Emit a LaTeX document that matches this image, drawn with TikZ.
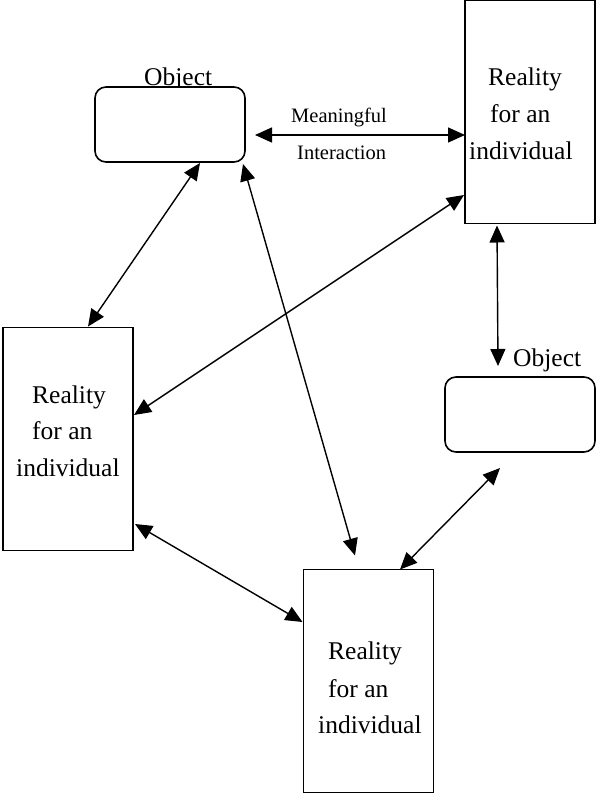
\documentclass[tikz,border=0pt]{standalone}
\usepackage{fontspec}
\setmainfont{Liberation Serif}
\usetikzlibrary{arrows.meta,calc}
\begin{document}
\begin{tikzpicture}[x=1pt,y=-1pt,
  realbox/.style={draw,line width=1.6pt,fill=white,inner sep=0,outer sep=0,minimum width=130pt,minimum height=223pt},
  objbox/.style={draw,line width=1.6pt,fill=white,rounded corners=11pt,inner sep=0,outer sep=0,minimum width=150pt,minimum height=75pt},
  txt/.style={anchor=base west,inner sep=0,font=\fontsize{25.5}{30}\selectfont},
  smalltxt/.style={anchor=base west,inner sep=0,font=\fontsize{20.5}{24}\selectfont},
  link/.style={{Triangle[length=17pt,width=15pt]}-{Triangle[length=17pt,width=15pt]},line width=1.4pt}
]
\useasboundingbox (0,0) rectangle (596,794);

% Object (top left)
\node[txt] (objlab1) at (144,86) {Object};
\node[objbox] (obj1) at (170,124.5) {};

% Reality boxes
\node[realbox] (rt) at (530,112) {};
\node[txt] (rt1) at (488,86) {Reality};
\node[txt] (rt2) at (490,123) {for an};
\node[txt] (rt3) at (469,160) {individual};

\node[realbox] (lb) at (68,439) {};
\node[txt] (lb1) at (32,403) {Reality};
\node[txt] (lb2) at (32,439) {for an};
\node[txt] (lb3) at (16,476) {individual};

\node[realbox] (bt) at (368.5,681) {};
\node[txt] (bt1) at (328,659) {Reality};
\node[txt] (bt2) at (328,697) {for an};
\node[txt] (bt3) at (318,733) {individual};

% Object (right)
\node[txt] (objlab2) at (513,366) {Object};
\node[objbox] (obj2) at (520,414.5) {};

% Meaningful interaction label
\node[smalltxt] (mi1) at (291,123) {Meaningful};
\node[smalltxt] (mi2) at (297,160) {Interaction};

% Connectors
\draw[link] ($(obj1.east)+(10,10.5)$) -- ($(rt.west)+(0,23)$);
\draw[link] ($(rt.south)+(-33,2)$) -- ($(obj2.north)+(-22,-11)$);
\draw[link] ($(obj1.south)+(30,1)$) -- ($(lb.north)+(20,-1)$);
\draw[link] ($(obj1.south east)+(-2,2)$) -- ($(bt.north)+(-13.5,-14)$);
\draw[link] ($(rt.west)+(-1,83)$) -- ($(lb.east)+(1,-24)$);
\draw[link] ($(lb.east)+(2,85)$) -- ($(bt.west)+(-1,-59)$);
\draw[link] ($(obj2.south)+(-20,16)$) -- ($(bt.north)+(31.5,0)$);
\end{tikzpicture}
\end{document}
